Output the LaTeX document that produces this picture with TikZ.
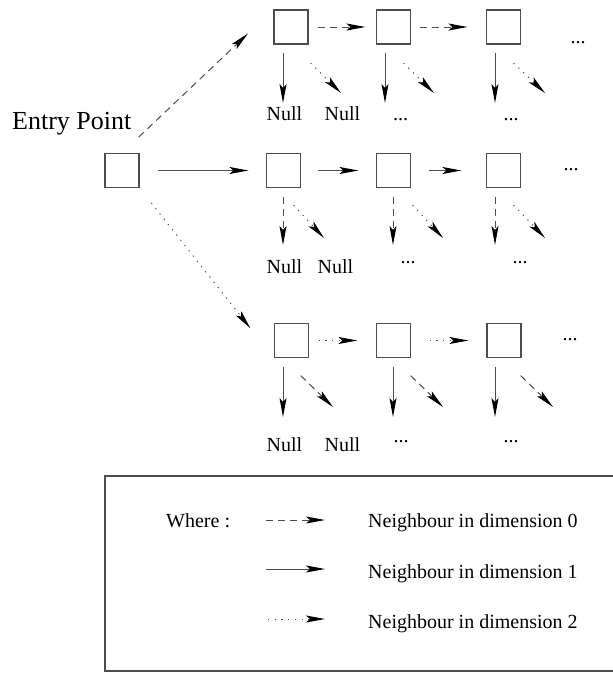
\documentclass[tikz,border=0pt]{standalone}
\usepackage{fontspec}
\setmainfont{Liberation Serif}
\usetikzlibrary{arrows.meta}
\definecolor{figgray}{HTML}{4D4D4D}
\tikzset{
  cell/.style={rectangle, draw=figgray, line width=1.2pt, minimum width=34pt, minimum height=34pt, inner sep=0pt},
  headed/.style={-{Stealth[length=19pt,width=7pt,inset=4pt,color=black]}, draw=figgray, line width=1pt},
  dimzero/.style={headed, dash pattern=on 7pt off 5pt},
  dimone/.style={headed},
  dimtwo/.style={headed, dash pattern=on 1.2pt off 5.5pt},
  lbl/.style={font=\fontsize{20}{24}\selectfont, inner sep=0pt, anchor=base},
}
\begin{document}
\begin{tikzpicture}[x=1pt,y=-1pt]
  \useasboundingbox (0,0) rectangle (613,673);
  % entry cell and the three rows of cells
  \node[cell] (entry) at (122,170.5) {};
  \node[lbl,anchor=base west,font=\fontsize{26}{30}\selectfont] (entrylbl) at (12,129) {Entry Point};
  \node[cell] (d0a) at (291,27) {};
  \node[cell] (d0b) at (393.5,27) {};
  \node[cell] (d0c) at (503.5,27) {};
  \node[cell] (d1a) at (283.5,170.5) {};
  \node[cell] (d1b) at (393.5,170.5) {};
  \node[cell] (d1c) at (503.5,170.5) {};
  \node[cell] (d2a) at (291.5,340.5) {};
  \node[cell] (d2b) at (393.5,340.5) {};
  \node[cell] (d2c) at (504,340.5) {};
  \node[lbl] (r0) at (578,43) {...};
  \node[lbl] (r1) at (571,170) {...};
  \node[lbl] (r2) at (570,340) {...};
  % from the entry point
  \draw[dimzero,shorten <=23pt,shorten >=35pt] (entry.north) -- (d0a.north west);
  \draw[dimone,shorten <=18pt,shorten >=17.5pt] (entry.east) -- (d1a.west);
  \draw[dimtwo,shorten <=19pt,shorten >=38pt] (entry.south east) -- (d2a.south west);
  % along the rows
  \draw[dimzero,shorten <=9pt,shorten >=10.5pt] (d0a) -- (d0b);
  \draw[dimzero,shorten <=8.5pt,shorten >=18.5pt] (d0b) -- (d0c);
  \draw[dimone,shorten <=16.5pt,shorten >=17.5pt] (d1a) -- (d1b);
  \draw[dimone,shorten <=17.5pt,shorten >=24.5pt] (d1b) -- (d1c);
  \draw[dimtwo,shorten <=9.5pt,shorten >=18.5pt] (d2a) -- (d2b);
  \draw[dimtwo,shorten <=18.5pt,shorten >=18pt] (d2b) -- (d2c);
  % row 0 downwards
  \coordinate (v0a) at (283,103);
  \coordinate (v0b) at (385,103);
  \coordinate (v0c) at (495,103);
  \coordinate (w0a) at (341,93);
  \coordinate (w0b) at (434,93);
  \coordinate (w0c) at (545,93);
  \draw[dimone,shorten <=8.5pt] (d0a.south -| v0a) -- (v0a);
  \draw[dimone,shorten <=8.5pt] (d0b.south -| v0b) -- (v0b);
  \draw[dimone,shorten <=8.5pt] (d0c.south -| v0c) -- (v0c);
  \draw[dimtwo] ([shift={(2,18.5)}]d0a.south east) -- (w0a);
  \draw[dimtwo] ([shift={(-7.5,18.5)}]d0b.south east) -- (w0b);
  \draw[dimtwo] ([shift={(-7.5,18.5)}]d0c.south east) -- (w0c);
  \node[lbl] (n0a) at (284.5,120) {Null};
  \node[lbl] (n0b) at (342.5,120) {Null};
  \node[lbl] (n0c) at (400.5,120) {...};
  \node[lbl] (n0d) at (511,120) {...};
  % row 1 downwards
  \coordinate (v1a) at (283,245);
  \coordinate (v1b) at (393,245);
  \coordinate (v1c) at (495,245);
  \coordinate (w1a) at (324,238);
  \coordinate (w1b) at (443,238);
  \coordinate (w1c) at (545,238);
  \draw[dimzero,shorten <=9pt] (d1a.south -| v1a) -- (v1a);
  \draw[dimzero,shorten <=9pt] (d1b.south -| v1b) -- (v1b);
  \draw[dimzero,shorten <=9pt] (d1c.south -| v1c) -- (v1c);
  \draw[dimtwo] ([shift={(-7.5,17)}]d1a.south east) -- (w1a);
  \draw[dimtwo] ([shift={(1.5,17)}]d1b.south east) -- (w1b);
  \draw[dimtwo] ([shift={(-7.5,17)}]d1c.south east) -- (w1c);
  \node[lbl] (n1a) at (284.5,273) {Null};
  \node[lbl] (n1b) at (335.5,273) {Null};
  \node[lbl] (n1c) at (408,263) {...};
  \node[lbl] (n1d) at (520,263) {...};
  % row 2 downwards
  \coordinate (v2a) at (283,417);
  \coordinate (v2b) at (393,417);
  \coordinate (v2c) at (495,417);
  \coordinate (w2a) at (333,407);
  \coordinate (w2b) at (443,407);
  \coordinate (w2c) at (553,407);
  \draw[dimone,shorten <=8.5pt] (d2a.south -| v2a) -- (v2a);
  \draw[dimone,shorten <=8.5pt] (d2b.south -| v2b) -- (v2b);
  \draw[dimone,shorten <=8.5pt] (d2c.south -| v2c) -- (v2c);
  \draw[dimzero] ([shift={(-8.5,17.5)}]d2a.south east) -- (w2a);
  \draw[dimzero] ([shift={(-0.5,17.5)}]d2b.south east) -- (w2b);
  \draw[dimzero] ([shift={(-1,17.5)}]d2c.south east) -- (w2c);
  \node[lbl] (n2a) at (284.5,451) {Null};
  \node[lbl] (n2b) at (342.5,451) {Null};
  \node[lbl] (n2c) at (401,442) {...};
  \node[lbl] (n2d) at (511,442) {...};
  % legend
  \draw[figgray,line width=1.2pt] (105,476) rectangle (616,671);
  \node[lbl,anchor=base west] (where) at (166,527) {Where :};
  \node[lbl,anchor=base west] (t0) at (368,527) {Neighbour in dimension 0};
  \node[lbl,anchor=base west] (t1) at (368,578) {Neighbour in dimension 1};
  \node[lbl,anchor=base west] (t2) at (368,628) {Neighbour in dimension 2};
  \coordinate (k0) at (266,520);
  \coordinate (k1) at (266,569);
  \coordinate (k2) at (268,619);
  \draw[dimzero,shorten >=43pt] (k0) -- (k0 -| t0.west);
  \draw[dimone,shorten >=43pt] (k1) -- (k1 -| t1.west);
  \draw[dimtwo,shorten >=43pt] (k2) -- (k2 -| t2.west);
\end{tikzpicture}
\end{document}
